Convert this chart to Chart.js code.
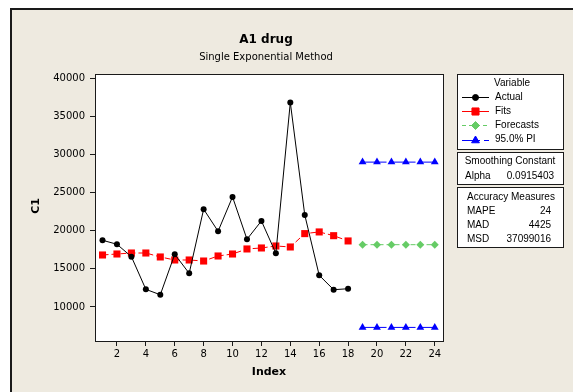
<!DOCTYPE html>
<html>
<head>
<meta charset="utf-8">
<script src="https://cdn.jsdelivr.net/npm/chart.js@4/dist/chart.umd.min.js"></script>
<style>
  html, body { margin: 0; padding: 0; background: #ffffff; }
  #wrap { width: 573px; height: 392px; position: relative; }
</style>
</head>
<body>
<div id="wrap"><canvas id="c" width="573" height="392"></canvas></div>
<script>
// Time index of observed data and forecast horizon
const actualIndex = [1, 2, 3, 4, 5, 6, 7, 8, 9, 10, 11, 12, 13, 14, 15, 16, 17, 18];
const forecastIndex = [19, 20, 21, 22, 23, 24];

// Observed series (C1) and single exponential smoothing fits
const actual = [18740, 18215, 16590, 12310, 11600, 16900, 14410, 22810, 19920, 24420, 18870, 21270, 17030, 36800, 22060, 14150, 12260, 12390];
const fits = [16810, 16940, 17070, 17070, 16550, 16155, 16155, 16020, 16680, 16940, 17600, 17730, 17990, 17860, 19610, 19830, 19340, 18650];

// Forecasts and 95% prediction interval bounds
const forecasts = [18160, 18160, 18160, 18160, 18160, 18160];
const piUpper = [28980, 28980, 28980, 28980, 28980, 28980];
const piLower = [7320, 7320, 7320, 7320, 7320, 7320];

// Axis tick labels
const xTicks = [2, 4, 6, 8, 10, 12, 14, 16, 18, 20, 22, 24];
const yTicks = [10000, 15000, 20000, 25000, 30000, 35000, 40000];

// Summary statistics
const smoothing = [["Alpha", "0.0915403"]];
const accuracy = [["MAPE", "24"], ["MAD", "4425"], ["MSD", "37099016"]];

const pts = (xs, ys) => xs.map((x, i) => ({ x: x, y: ys[i] }));

const BG = '#eeeae0';
const INK = '#1a1a1a';
const GREEN = '#66cc66';

const framePlugin = {
  id: 'frame',
  beforeDraw(chart) {
    const ctx = chart.ctx;
    const a = chart.chartArea;
    ctx.save();
    ctx.fillStyle = '#ffffff';
    ctx.fillRect(0, 0, chart.width, chart.height);
    ctx.fillStyle = BG;
    ctx.fillRect(10, 8, chart.width - 10, chart.height - 8);
    ctx.fillStyle = INK;
    ctx.fillRect(10, 8, chart.width - 10, 2);
    ctx.fillRect(10, 8, 2, chart.height - 8);
    ctx.fillStyle = '#ffffff';
    ctx.fillRect(a.left, a.top, a.right - a.left, a.bottom - a.top);
    ctx.restore();
  },
  afterDraw(chart) {
    const ctx = chart.ctx;
    const a = chart.chartArea;
    ctx.save();
    // plot frame
    ctx.strokeStyle = INK;
    ctx.lineWidth = 1;
    ctx.strokeRect(Math.round(a.left) + 0.5, Math.round(a.top) + 0.5,
      Math.round(a.right - a.left), Math.round(a.bottom - a.top));

    // titles
    const cx = 266;
    ctx.fillStyle = '#000000';
    ctx.textAlign = 'center';
    ctx.textBaseline = 'alphabetic';
    ctx.font = 'bold 12px "DejaVu Sans"';
    ctx.fillText('A1 drug', cx, 43);
    ctx.font = '10px "DejaVu Sans"';
    ctx.fillText('Single Exponential Method', cx, 60);

    // axis titles
    ctx.font = 'bold 11px "DejaVu Sans"';
    ctx.textBaseline = 'middle';
    ctx.fillText('Index', (a.left + a.right) / 2, 372);
    ctx.save();
    ctx.translate(36, 206);
    ctx.rotate(-Math.PI / 2);
    ctx.fillText('C1', 0, 0);
    ctx.restore();

    // legend boxes
    const bx = 457, bw = 106;
    ctx.strokeStyle = INK;
    ctx.fillStyle = '#ffffff';
    const boxes = [[74, 75], [152, 32], [187, 60]];
    boxes.forEach(([y, h]) => {
      ctx.fillRect(bx, y, bw, h);
      ctx.strokeRect(bx + 0.5, y + 0.5, bw, h);
    });

    ctx.fillStyle = '#000000';
    ctx.font = '10px "Liberation Sans"';
    ctx.textAlign = 'center';
    ctx.fillText('Variable', 512, 83.5);

    // legend keys: short line sample with the series marker
    const rows = [
      { label: 'Actual', ds: 0, y: 97, dash: [] },
      { label: 'Fits', ds: 1, y: 111, dash: [] },
      { label: 'Forecasts', ds: 2, y: 125, dash: [4, 3] },
      { label: '95.0% PI', ds: 3, y: 139.5, dash: [18, 4] }
    ];
    rows.forEach(r => {
      const d = chart.data.datasets[r.ds];
      const yy = Math.round(r.y) + 0.5;
      ctx.save();
      ctx.strokeStyle = d.borderColor;
      ctx.lineWidth = 1;
      ctx.setLineDash(r.dash);
      ctx.beginPath();
      ctx.moveTo(462, yy);
      ctx.lineTo(489, yy);
      ctx.stroke();
      ctx.setLineDash([]);
      ctx.fillStyle = d.pointBackgroundColor;
      ctx.strokeStyle = d.pointBackgroundColor;
      Chart.helpers.drawPoint(ctx, {
        pointStyle: d.pointStyle, radius: d.pointRadius, rotation: 0, borderWidth: 1
      }, 475.5, yy);
      ctx.restore();
      ctx.textAlign = 'left';
      ctx.fillStyle = '#000000';
      ctx.fillText(r.label, 495, r.y);
    });

    ctx.textAlign = 'center';
    ctx.fillText('Smoothing Constant', 510, 161.5);
    smoothing.forEach(([k, v], i) => {
      ctx.textAlign = 'left';
      ctx.fillText(k, 465, 176 + i * 14);
      ctx.textAlign = 'right';
      ctx.fillText(v, 554, 176 + i * 14);
    });

    ctx.textAlign = 'center';
    ctx.fillText('Accuracy Measures', 511, 197);
    accuracy.forEach(([k, v], i) => {
      ctx.textAlign = 'left';
      ctx.fillText(k, 467, 211.5 + i * 14);
      ctx.textAlign = 'right';
      ctx.fillText(v, 551, 211.5 + i * 14);
    });
    ctx.restore();
  }
};

const axisCommon = {
  grid: { display: true, drawOnChartArea: false, drawTicks: true, tickLength: 5, color: INK, lineWidth: 1 },
  border: { display: true, color: INK, width: 1 },
  ticks: { color: '#000000', font: { family: 'DejaVu Sans', size: 10 }, callback: v => String(v) }
};

new Chart(document.getElementById('c'), {
  type: 'line',
  data: {
    datasets: [
      {
        label: 'Actual', data: pts(actualIndex, actual),
        borderColor: '#000000', borderWidth: 1,
        pointStyle: 'circle', pointRadius: 3, pointBackgroundColor: '#000000', pointBorderColor: '#000000', pointBorderWidth: 0
      },
      {
        label: 'Fits', data: pts(actualIndex, fits),
        borderColor: '#ff0000', borderWidth: 1, borderDash: [6, 3],
        pointStyle: 'rect', pointRadius: 5, pointBackgroundColor: '#ff0000', pointBorderColor: '#ff0000', pointBorderWidth: 0
      },
      {
        label: 'Forecasts', data: pts(forecastIndex, forecasts),
        borderColor: GREEN, borderWidth: 1, borderDash: [5, 3],
        pointStyle: 'rectRot', pointRadius: 4, pointBackgroundColor: GREEN, pointBorderColor: GREEN, pointBorderWidth: 0
      },
      {
        label: '95.0% PI', data: pts(forecastIndex, piUpper),
        borderColor: '#0000ff', borderWidth: 1, borderDash: [24, 5],
        pointStyle: 'triangle', pointRadius: 4.5, pointBackgroundColor: '#0000ff', pointBorderColor: '#0000ff', pointBorderWidth: 0
      },
      {
        label: '95.0% PI lower', data: pts(forecastIndex, piLower),
        borderColor: '#0000ff', borderWidth: 1, borderDash: [24, 5],
        pointStyle: 'triangle', pointRadius: 4.5, pointBackgroundColor: '#0000ff', pointBorderColor: '#0000ff', pointBorderWidth: 0
      }
    ]
  },
  options: {
    responsive: false,
    animation: false,
    events: [],
    layout: { padding: { top: 74, right: 130, left: 0, bottom: 0 } },
    elements: { line: { tension: 0 } },
    plugins: { legend: { display: false }, title: { display: false }, tooltip: { enabled: false } },
    scales: {
      x: {
        ...axisCommon,
        type: 'linear', position: 'bottom', min: 0.48, max: 24.57,
        ticks: { ...axisCommon.ticks, padding: 2, maxRotation: 0 },
        afterBuildTicks: s => { s.ticks = xTicks.map(v => ({ value: v })); },
        afterFit: s => { s.height = 51; }
      },
      y: {
        ...axisCommon,
        type: 'linear', position: 'left', min: 5540, max: 40525,
        ticks: { ...axisCommon.ticks, padding: 5 },
        afterBuildTicks: s => { s.ticks = yTicks.map(v => ({ value: v })); },
        afterFit: s => { s.width = 95; }
      }
    }
  },
  plugins: [framePlugin]
});
</script>
</body>
</html>
